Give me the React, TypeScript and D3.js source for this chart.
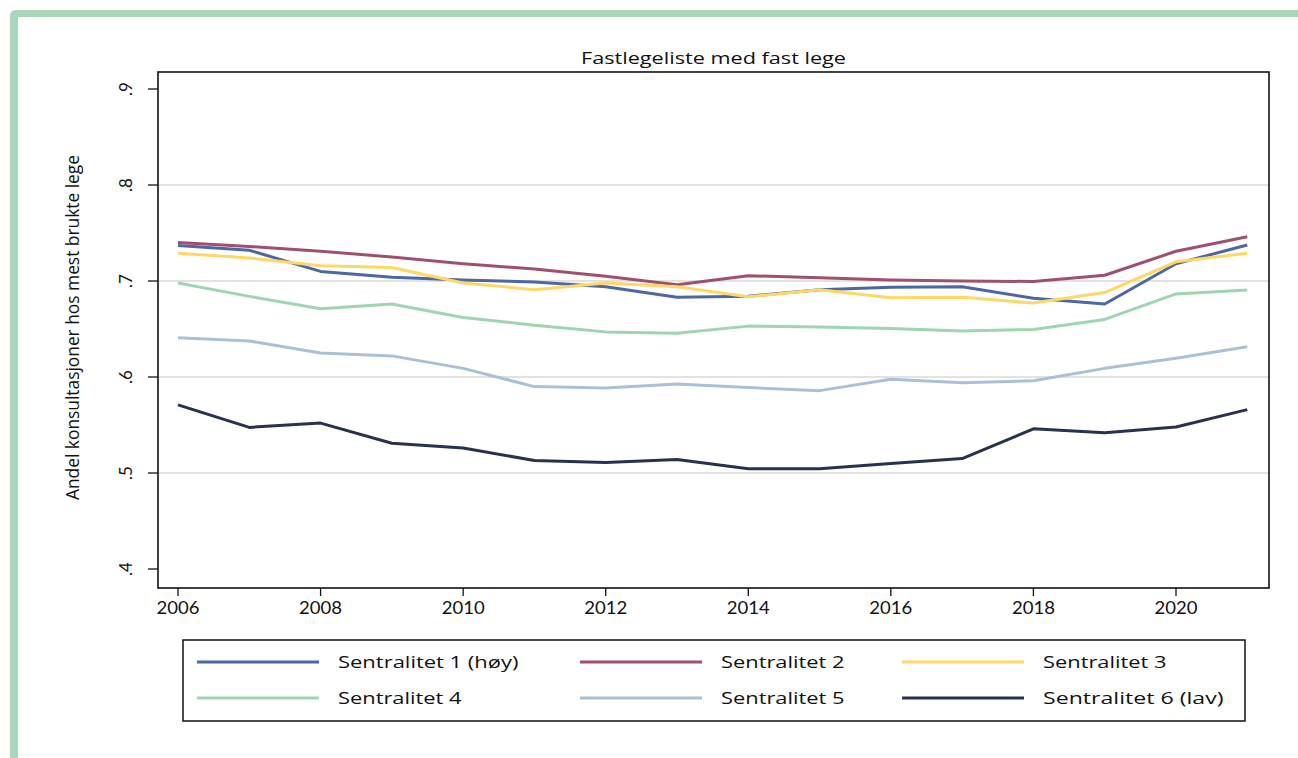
import React from "react";
import * as d3 from "d3";

const years = [2006, 2007, 2008, 2009, 2010, 2011, 2012, 2013, 2014, 2015, 2016, 2017, 2018, 2019, 2020, 2021];
const s1 = [0.737, 0.732, 0.710, 0.704, 0.701, 0.699, 0.694, 0.683, 0.684, 0.691, 0.6935, 0.694, 0.682, 0.676, 0.718, 0.7375];
const s2 = [0.740, 0.736, 0.731, 0.725, 0.718, 0.7125, 0.705, 0.696, 0.7055, 0.7035, 0.701, 0.700, 0.6995, 0.706, 0.731, 0.746];
const s3 = [0.729, 0.724, 0.716, 0.714, 0.698, 0.691, 0.698, 0.694, 0.6835, 0.691, 0.6826, 0.683, 0.677, 0.688, 0.720, 0.729];
const s4 = [0.698, 0.684, 0.671, 0.676, 0.662, 0.654, 0.647, 0.6455, 0.653, 0.652, 0.6505, 0.648, 0.6495, 0.660, 0.6865, 0.6906];
const s5 = [0.641, 0.6375, 0.625, 0.622, 0.609, 0.590, 0.5885, 0.5927, 0.589, 0.5858, 0.5976, 0.594, 0.596, 0.609, 0.6195, 0.6316];
const s6 = [0.571, 0.5475, 0.552, 0.531, 0.526, 0.513, 0.511, 0.514, 0.5045, 0.5045, 0.510, 0.515, 0.546, 0.542, 0.548, 0.566];

const seriesNames = ["Sentralitet 1 (høy)", "Sentralitet 2", "Sentralitet 3", "Sentralitet 4", "Sentralitet 5", "Sentralitet 6 (lav)"];
const seriesColors = ["#4b67a6", "#a04f6e", "#ffd863", "#9ed6b1", "#a9c0d8", "#26324f"];
const seriesValues = [s1, s2, s3, s4, s5, s6];

const yTicks = [0.4, 0.5, 0.6, 0.7, 0.8, 0.9];
const yTickLabels = [".4", ".5", ".6", ".7", ".8", ".9"];
const gridTicks = [0.5, 0.6, 0.7, 0.8];
const xTicks = [2006, 2008, 2010, 2012, 2014, 2016, 2018, 2020];

const title = "Fastlegeliste med fast lege";
const yTitle = "Andel konsultasjoner hos mest brukte lege";

// the reference image is horizontally stretched; emulate by per-character width
const legendCharWidth = 9.5;

export default function App() {
  const W = 1298, H = 758;
  const plot = { left: 158, right: 1269, top: 72, bottom: 588 };
  const x = d3.scaleLinear().domain([2006, 2020]).range([178, 1176]);
  const y = d3.scaleLinear().domain([0.4, 0.8]).range([569, 185]);
  const line = d3.line<number>().x((_, i) => x(years[i])).y((v) => y(v));
  const font = "'Open Sans', sans-serif";

  const legendCols = [197, 580, 902];
  const legendRows = [662, 698];

  return (
    <svg width={W} height={H} style={{ position: "absolute", left: 0, top: 0, background: "#fff" }}>
      {/* frame */}
      <path d="M10,758 L10,16 Q10,10 16,10 L1298,10 L1298,17 L18,17 L18,758 Z" fill="#a9d6ba" />
      <line x1={18} x2={1298} y1={755} y2={755} stroke="#f0f0f0" strokeWidth={1} />

      {/* grid */}
      {gridTicks.map((t) => (
        <line key={t} x1={plot.left} x2={plot.right} y1={y(t)} y2={y(t)} stroke="#d9d9d9" strokeWidth={1.5} />
      ))}

      {/* lines */}
      {seriesValues.map((vals, i) => (
        <path key={i} d={line(vals) || ""} fill="none" stroke={seriesColors[i]} strokeWidth={3} strokeLinejoin="round" />
      ))}

      {/* plot border */}
      <rect x={plot.left} y={plot.top} width={plot.right - plot.left} height={plot.bottom - plot.top} fill="none" stroke="#111" strokeWidth={1.6} />

      {/* y ticks */}
      {yTicks.map((t, i) => (
        <g key={t}>
          <line x1={plot.left - 10} x2={plot.left} y1={y(t)} y2={y(t)} stroke="#111" strokeWidth={1.3} />
          <text
            transform={`translate(132,${y(t)}) rotate(-90)`}
            textAnchor="middle"
            fontFamily="Lato, sans-serif"
            fontSize={17}
            fill="#111"
          >
            {yTickLabels[i]}
          </text>
        </g>
      ))}

      {/* x ticks */}
      {xTicks.map((t) => (
        <g key={t}>
          <line x1={x(t)} x2={x(t)} y1={plot.bottom} y2={plot.bottom + 8} stroke="#111" strokeWidth={1.3} />
          <text
            x={x(t) - 21.5}
            y={614}
            textLength={43}
            lengthAdjust="spacingAndGlyphs"
            fontFamily="Lato, sans-serif"
            fontSize={17}
            fill="#111"
          >
            {t}
          </text>
        </g>
      ))}

      {/* titles */}
      <text
        x={713.5 - 132.5}
        y={64}
        textLength={265}
        lengthAdjust="spacingAndGlyphs"
        fontFamily={font}
        fontSize={16}
        fill="#111"
      >
        {title}
      </text>
      <text
        transform={`translate(79,500) rotate(-90)`}
        textLength={345}
        lengthAdjust="spacingAndGlyphs"
        fontFamily={font}
        fontSize={18}
        fill="#111"
      >
        {yTitle}
      </text>

      {/* legend */}
      <rect x={183} y={640} width={1062} height={81} fill="#fff" stroke="#111" strokeWidth={1.5} />
      {seriesNames.map((name, i) => {
        const cx = legendCols[i % 3];
        const cy = legendRows[Math.floor(i / 3)];
        return (
          <g key={name}>
            <line x1={cx} x2={cx + 122} y1={cy} y2={cy} stroke={seriesColors[i]} strokeWidth={3.2} />
            <text
              x={cx + 141}
              y={cy + 6}
              textLength={name.length * legendCharWidth}
              lengthAdjust="spacingAndGlyphs"
              fontFamily={font}
              fontSize={17}
              fill="#111"
            >
              {name}
            </text>
          </g>
        );
      })}
    </svg>
  );
}
